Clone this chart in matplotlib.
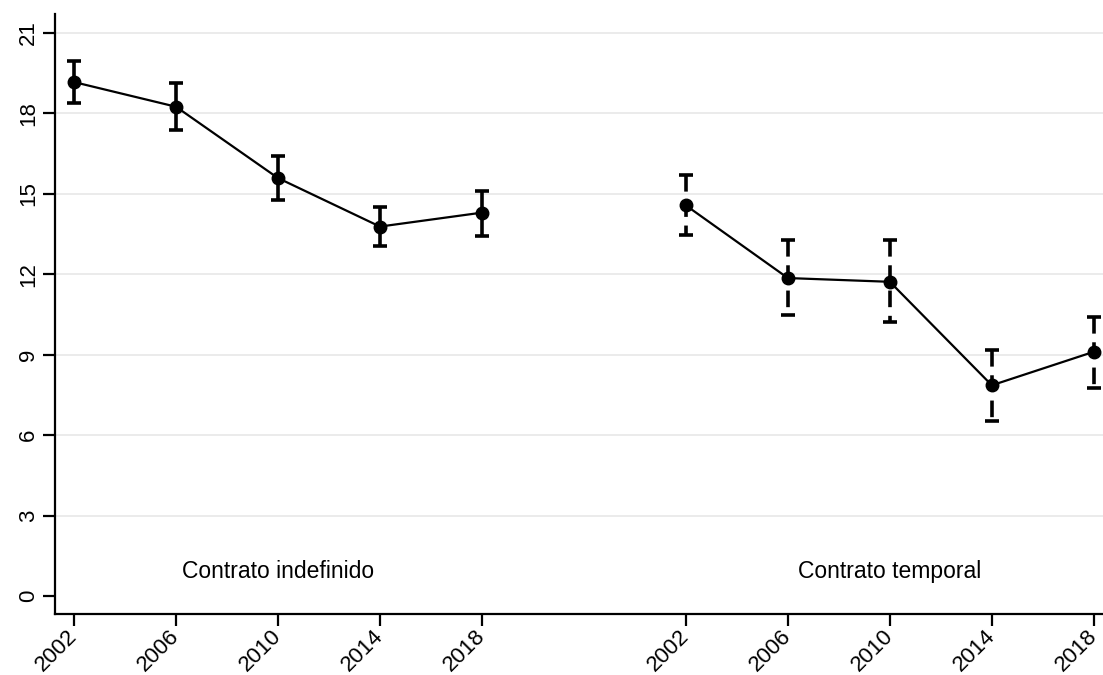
import matplotlib
matplotlib.use("Agg")
import matplotlib.pyplot as plt
import numpy as np

plt.rcParams['font.family'] = ['Liberation Sans', 'DejaVu Sans']

years = ["2002", "2006", "2010", "2014", "2018"]
groups = ["Contrato indefinido", "Contrato temporal"]

# Point estimates and 95% confidence bounds per contract type
indef_mean = [19.17, 18.25, 15.59, 13.78, 14.30]
indef_low = [18.38, 17.39, 14.78, 13.07, 13.44]
indef_high = [19.97, 19.15, 16.42, 14.52, 15.12]

temp_mean = [14.57, 11.86, 11.72, 7.86, 9.11]
temp_low = [13.48, 10.50, 10.21, 6.53, 7.77]
temp_high = [15.71, 13.29, 13.27, 9.17, 10.41]

yticks = [0, 3, 6, 9, 12, 15, 18, 21]

fig = plt.figure(figsize=(11.03, 6.75), dpi=100)
ax = fig.add_axes([0.0499, 0.0904, 0.9501, 0.8889])

x_indef = np.arange(1, 6)
x_temp = np.arange(7, 12)

for y in yticks[1:]:
    ax.axhline(y, color="#e9e9e9", lw=1.3, zorder=0)


def draw_group(x, mean, low, high, dashed):
    # confidence interval bars, drawn top-down so dashes start at the upper cap
    ls = (0, (4.6, 2.4)) if dashed else "solid"
    ax.vlines(x, high, low, colors="black", linewidth=2.6,
              linestyles=[ls], zorder=2, capstyle="butt")
    ax.plot(x, high, "_", color="black", ms=10, mew=2.6, zorder=2)
    ax.plot(x, low, "_", color="black", ms=10, mew=2.6, zorder=2)
    ax.plot(x, mean, "o-", color="black", ms=9, lw=1.6, zorder=3)


draw_group(x_indef, indef_mean, indef_low, indef_high, False)
draw_group(x_temp, temp_mean, temp_low, temp_high, True)

ax.text(3, 0.93, groups[0], ha="center", va="center", fontsize=16.5)
ax.text(9, 0.93, groups[1], ha="center", va="center", fontsize=16.5)

ax.set_xlim(0.814, 11.09)
ax.set_ylim(-0.67, 21.71)
ax.set_yticks(yticks)
ax.set_yticklabels([str(v) for v in yticks], rotation=90, va="center")
ax.set_xticks(np.concatenate([x_indef, x_temp]))
ax.set_xticklabels(years + years, rotation=45, ha="right", va="center",
                   rotation_mode="anchor")

ax.tick_params(axis="both", length=8.6, width=1.6, labelsize=16, color="black")
ax.tick_params(axis="y", pad=3)
ax.tick_params(axis="x", pad=5)

for s in ["top", "right"]:
    ax.spines[s].set_visible(False)
for s in ["left", "bottom"]:
    ax.spines[s].set_linewidth(1.6)

fig.savefig("out.png", dpi=100)
